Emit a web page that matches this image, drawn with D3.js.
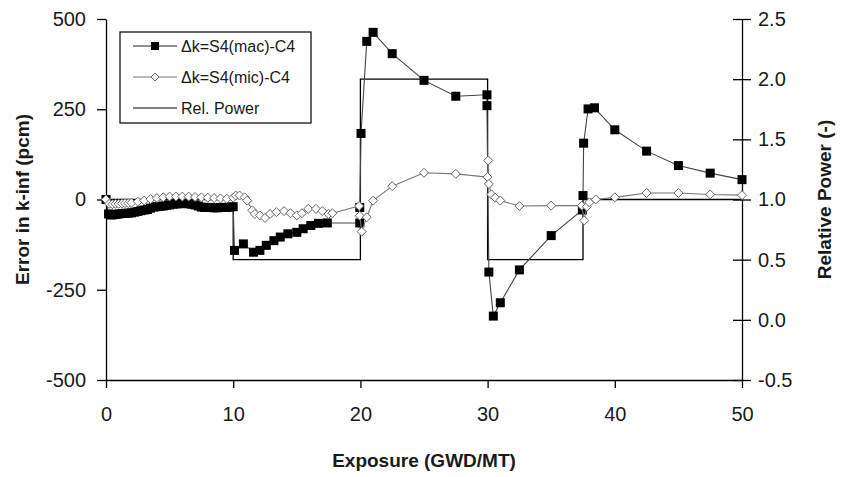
<!DOCTYPE html>
<html>
<head>
<meta charset="utf-8">
<script src="https://cdn.jsdelivr.net/npm/d3@7"></script>
<style>
  body { margin: 0; background: #fff; }
  svg { font-family: "Liberation Sans", Arial, sans-serif; }
</style>
</head>
<body>
<div id="chart"></div>
<script>
// Δk = S4(mac) - C4, filled squares
const macExposure = [0, 0.2, 0.4, 0.6, 0.8, 1.0, 1.25, 1.5, 1.75, 2.0, 2.25, 2.5, 2.75, 3.0, 3.25, 3.5, 3.75, 4.0,
  4.25, 4.5, 4.75, 5.0, 5.25, 5.5, 5.75, 6.0, 6.25, 6.5, 6.75, 7.0, 7.25, 7.5, 7.75, 8.0, 8.25, 8.5, 8.75, 9.0,
  9.25, 9.5, 9.75, 10.0,
  10.1, 10.8, 11.6, 12.1, 12.6, 13.2, 13.7, 14.3, 15.0, 15.5, 16.1, 16.7, 17.4,
  19.95, 19.95, 20.05, 20.5, 21.0, 22.5, 25.0, 27.5, 29.95, 29.95,
  30.1, 30.45, 31.0, 32.5, 35.0, 37.45, 37.5, 37.55, 37.9, 38.4, 40.0, 42.5, 45.0, 47.5, 50.0];
const macError = [0, -40, -43, -42, -41, -40, -39, -38, -38, -37, -35, -33, -31, -29, -28, -24, -21, -20,
  -19, -18, -16, -15, -13, -12, -12, -11, -11, -12, -13, -15, -18, -21, -22, -22, -22, -23, -23, -22,
  -22, -22, -21, -20,
  -141, -123, -146, -141, -127, -114, -104, -95, -91, -81, -72, -66, -65,
  -65, -22, 183, 438, 463, 404, 330, 286, 290, 260,
  -201, -323, -286, -195, -100, -29, 11, 156, 251, 254, 193, 134, 94, 73, 55];

// Δk = S4(mic) - C4, open diamonds
const micExposure = [0, 0.25, 0.5, 0.75, 1.0, 1.25, 1.5, 1.75, 2.0, 2.5, 3.0, 3.5, 4.0, 4.5, 5.0, 5.5, 6.0,
  6.5, 7.0, 7.5, 8.0, 8.5, 9.0, 9.5, 10.0, 10.2, 10.5, 10.9, 11.1, 11.5, 11.7, 12.1, 12.5, 12.9, 13.4,
  14.0, 14.5, 15.0, 15.4, 15.9, 16.5, 17.0, 17.5, 17.8, 19.9, 19.95, 20.1, 20.5, 21.0, 22.5, 25.0,
  27.5, 30.0, 30.05, 30.1, 30.3, 30.6, 31.0, 32.5, 35.0, 37.4, 37.6, 37.8, 38.0, 38.5, 40.0, 42.5,
  45.0, 47.5, 50.0];
const micError = [0, -12, -13, -12, -12, -11, -10, -10, -9, -6, -3, 1, 4, 6, 8, 8, 8,
  8, 7, 6, 5, 4, 3, 2, 5, 11, 11, 6, -3, -30, -40, -44, -51, -40, -35,
  -32, -38, -44, -38, -26, -26, -32, -40, -38, -18, -45, -89, -49, -3, 37, 74,
  71, 62, 108, 43, 14, 5, -3, -18, -17, -17, -58, -20, -8, 0, 6, 18,
  18, 14, 12];

// relative power history (step changes)
const powerExposure = [0, 10, 20, 30, 37.5, 50];
const powerLevel = [1.0, 0.5, 2.0, 0.5, 1.0, 1.0];

const leftTicks = [-500, -250, 0, 250, 500];
const rightTicks = [-0.5, 0.0, 0.5, 1.0, 1.5, 2.0, 2.5];
const xTicks = [0, 10, 20, 30, 40, 50];

const legendItems = ["Δk=S4(mac)-C4", "Δk=S4(mic)-C4", "Rel. Power"];

const width = 841, height = 477;
const margin = { left: 106, right: 99, top: 19, bottom: 97 };

const svg = d3.select("#chart").append("svg")
    .attr("width", width)
    .attr("height", height);

const x = d3.scaleLinear().domain([0, 50]).range([margin.left, width - margin.right]);
const yL = d3.scaleLinear().domain([-500, 500]).range([height - margin.bottom, margin.top]);
const yR = d3.scaleLinear().domain([-0.5, 2.5]).range([height - margin.bottom, margin.top]);

const textColor = "#1a1a1a";
const fmt = d => (d < 0 ? "-" : "") + Math.abs(d);

// axes
const gLeft = svg.append("g")
    .attr("transform", `translate(${margin.left},0)`)
    .call(d3.axisLeft(yL).tickValues(leftTicks).tickSize(9).tickSizeOuter(0).tickPadding(11).tickFormat(fmt));

const gRight = svg.append("g")
    .attr("transform", `translate(${width - margin.right},0)`)
    .call(d3.axisRight(yR).tickValues(rightTicks).tickSize(9).tickSizeOuter(0).tickPadding(7)
        .tickFormat(d => d.toFixed(1)));
gRight.selectAll(".tick line").attr("x1", -9);

const gBottom = svg.append("g")
    .attr("transform", `translate(0,${height - margin.bottom})`)
    .call(d3.axisBottom(x).tickValues(xTicks).tickSize(8).tickSizeOuter(0).tickPadding(19).tickFormat(d3.format("d")));

[gLeft, gRight, gBottom].forEach(g => {
    g.selectAll("path.domain").attr("stroke", "#000").attr("stroke-width", 1.3);
    g.selectAll(".tick line").attr("stroke", "#000").attr("stroke-width", 1.3);
    g.selectAll(".tick text")
        .attr("fill", textColor)
        .style("font-size", "20px");
});

// series lines
const macData = macExposure.map((e, i) => [e, macError[i]]);
const micData = micExposure.map((e, i) => [e, micError[i]]);
const powerData = powerExposure.map((e, i) => [e, powerLevel[i]]);

const lineL = d3.line().x(d => x(d[0])).y(d => yL(d[1]));

svg.append("path")
    .datum(powerData)
    .attr("fill", "none")
    .attr("stroke", "#000")
    .attr("stroke-width", 1.3)
    .attr("d", d3.line().curve(d3.curveStepAfter).x(d => x(d[0])).y(d => yR(d[1])));

svg.append("path")
    .datum(macData)
    .attr("fill", "none")
    .attr("stroke", "#444")
    .attr("stroke-width", 1.1)
    .attr("d", lineL);

svg.append("g")
    .selectAll("rect")
    .data(macData)
    .join("rect")
    .attr("x", d => x(d[0]) - 4.5)
    .attr("y", d => yL(d[1]) - 4.5)
    .attr("width", 9)
    .attr("height", 9)
    .attr("fill", "#000");

svg.append("path")
    .datum(micData)
    .attr("fill", "none")
    .attr("stroke", "#777")
    .attr("stroke-width", 1.1)
    .attr("d", lineL);

const diamond = "M0,-4.5L4.5,0L0,4.5L-4.5,0Z";
svg.append("g")
    .selectAll("path")
    .data(micData)
    .join("path")
    .attr("transform", d => `translate(${x(d[0])},${yL(d[1])})`)
    .attr("d", diamond)
    .attr("fill", "#fff")
    .attr("stroke", "#666")
    .attr("stroke-width", 1);

// axis titles
svg.append("text")
    .attr("x", (x(0) + x(50)) / 2)
    .attr("y", 467)
    .attr("text-anchor", "middle")
    .attr("fill", textColor)
    .style("font-size", "19px")
    .style("font-weight", "bold")
    .text("Exposure (GWD/MT)");

svg.append("text")
    .attr("transform", `translate(29,${yL(0)}) rotate(-90)`)
    .attr("text-anchor", "middle")
    .attr("fill", textColor)
    .style("font-size", "19px")
    .style("font-weight", "bold")
    .text("Error in k-inf (pcm)");

svg.append("text")
    .attr("transform", `translate(831,${yR(1.0)}) rotate(-90)`)
    .attr("text-anchor", "middle")
    .attr("fill", textColor)
    .style("font-size", "19px")
    .style("font-weight", "bold")
    .text("Relative Power (-)");

// legend
const legend = svg.append("g").attr("transform", "translate(120,32)");
legend.append("rect")
    .attr("width", 191)
    .attr("height", 91)
    .attr("fill", "#fff")
    .attr("stroke", "#000")
    .attr("stroke-width", 1.2);

const rowY = [14, 45, 76];
const rows = legend.selectAll("g.row")
    .data(legendItems)
    .join("g")
    .attr("class", "row")
    .attr("transform", (d, i) => `translate(0,${rowY[i]})`);

rows.append("line")
    .attr("x1", 13).attr("x2", 57)
    .attr("stroke", (d, i) => i === 1 ? "#777" : (i === 0 ? "#222" : "#000"))
    .attr("stroke-width", 1.2);

rows.filter((d, i) => i === 0).append("rect")
    .attr("x", 31).attr("y", -4).attr("width", 8).attr("height", 8).attr("fill", "#000");
rows.filter((d, i) => i === 1).append("path")
    .attr("transform", "translate(35,0)")
    .attr("d", "M0,-4L4,0L0,4L-4,0Z")
    .attr("fill", "#fff")
    .attr("stroke", "#666");

rows.append("text")
    .attr("x", 61)
    .attr("dy", "0.35em")
    .attr("fill", textColor)
    .style("font-size", "16px")
    .text(d => d);
</script>
</body>
</html>
